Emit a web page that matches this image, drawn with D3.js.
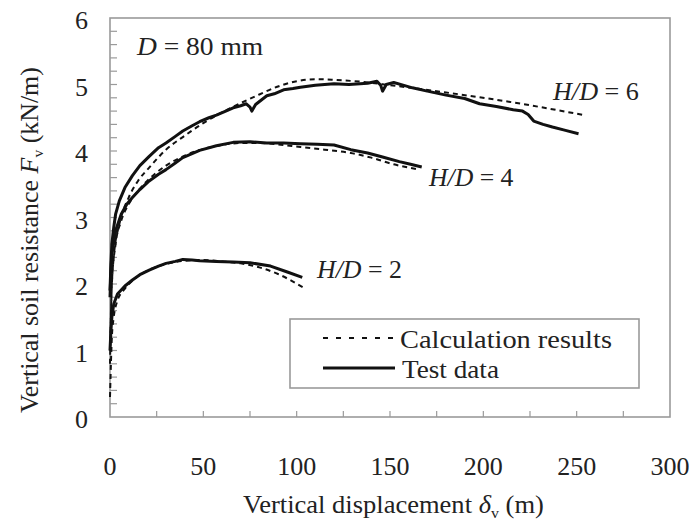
<!DOCTYPE html>
<html><head><meta charset="utf-8">
<script src="https://cdn.jsdelivr.net/npm/d3@7"></script>
<style>
html,body{margin:0;padding:0;background:#fff;}
#chart text{font-family:"Liberation Serif","Times New Roman","DejaVu Serif",serif;}
</style></head>
<body>
<svg id="chart" width="698" height="525"></svg>
<script>
// ---- data ----
const xTicks = [0, 50, 100, 150, 200, 250, 300];
const yTicks = [0, 1, 2, 3, 4, 5, 6];

// H/D = 6
const test6X = [0, 0.5, 1, 2, 3, 5, 8, 12, 16, 21, 26, 30, 35, 39, 44, 48, 53, 57, 62, 66, 70, 73, 75, 76, 78, 84, 88, 93, 98, 102, 110, 120, 128, 138, 143, 145, 146, 148, 152, 157, 162, 170, 180, 190, 198, 207, 216, 221, 224, 227, 232, 237, 244, 251];
const test6Y = [1.9, 2.3, 2.6, 2.85, 3.05, 3.25, 3.45, 3.63, 3.78, 3.92, 4.05, 4.12, 4.22, 4.3, 4.38, 4.44, 4.5, 4.54, 4.6, 4.65, 4.68, 4.71, 4.66, 4.6, 4.7, 4.83, 4.86, 4.92, 4.94, 4.96, 4.99, 5.01, 5.0, 5.02, 5.05, 4.99, 4.9, 5.0, 5.03, 4.99, 4.95, 4.9, 4.84, 4.79, 4.71, 4.67, 4.62, 4.6, 4.55, 4.45, 4.4, 4.36, 4.31, 4.26];
const calc6X = [0, 1, 2, 5, 10, 15, 21, 30, 40, 50, 60, 70, 80, 90, 100, 110, 120, 135, 150, 180, 216, 254];
const calc6Y = [1.0, 2.0, 2.4, 2.9, 3.3, 3.55, 3.75, 4.02, 4.23, 4.42, 4.58, 4.72, 4.85, 4.97, 5.05, 5.08, 5.07, 5.04, 4.99, 4.88, 4.73, 4.54];

// H/D = 4
const test4X = [0, 0.5, 1, 3, 6, 9, 12, 16, 21, 26, 30, 35, 39, 44, 48, 57, 66, 75, 84, 93, 102, 111, 120, 129, 138, 146, 155, 161, 167];
const test4Y = [1.8, 2.2, 2.45, 2.8, 3.05, 3.2, 3.3, 3.42, 3.55, 3.65, 3.72, 3.82, 3.9, 3.96, 4.01, 4.08, 4.13, 4.14, 4.12, 4.12, 4.11, 4.1, 4.09, 4.02, 3.97, 3.91, 3.84, 3.8, 3.76];
const calc4X = [0, 1, 3, 6, 10, 15, 21, 30, 40, 50, 60, 70, 80, 90, 102, 115, 129, 140, 152, 166];
const calc4Y = [0.8, 2.0, 2.6, 2.95, 3.2, 3.4, 3.58, 3.78, 3.93, 4.03, 4.09, 4.12, 4.12, 4.1, 4.06, 4.02, 3.97, 3.9, 3.8, 3.72];

// H/D = 2
const test2X = [0, 0.5, 1, 2, 4, 8, 12, 16, 21, 26, 30, 35, 39, 44, 48, 57, 66, 75, 86, 95, 103];
const test2Y = [1.0, 1.3, 1.5, 1.7, 1.85, 1.97, 2.06, 2.14, 2.21, 2.27, 2.31, 2.34, 2.37, 2.36, 2.35, 2.34, 2.33, 2.32, 2.27, 2.18, 2.1];
const calc2X = [0, 1, 2, 4, 8, 12, 20, 30, 40, 50, 60, 70, 80, 90, 104];
const calc2Y = [0.3, 1.2, 1.5, 1.75, 1.93, 2.05, 2.2, 2.3, 2.35, 2.36, 2.34, 2.31, 2.25, 2.15, 1.94];

const curveLabels = ["H/D = 6", "H/D = 4", "H/D = 2"];
const legendLabels = ["Calculation results", "Test data"];

// ---- layout ----
const svg = d3.select("#chart");
const L = 110, R = 670, T = 18, B = 417;
const x = d3.scaleLinear().domain([0, 300]).range([L, R]);
const y = d3.scaleLinear().domain([0, 6]).range([B, T]);
const frameColor = "#9a9a9a";
const textColor = "#222";

// stretch a text horizontally (in its own coords) so it spans targetW starting at x0
function fitWidth(sel, x0, targetW) {
  const w = sel.node().getBBox().width;
  const k = targetW / w;
  sel.attr("transform", `translate(${x0},0) scale(${k},1) translate(${-x0},0)`);
}

// frame
svg.append("rect").attr("x", L).attr("y", T).attr("width", R - L).attr("height", B - T)
  .attr("fill", "none").attr("stroke", frameColor).attr("stroke-width", 1.6);

// x ticks (inward)
const xMinor = d3.range(0, 301, 25);
svg.append("g").selectAll("line").data(xMinor.filter(d => d > 0 && d < 300)).join("line")
  .attr("x1", d => x(d)).attr("x2", d => x(d)).attr("y1", B).attr("y2", B - 6)
  .attr("stroke", frameColor).attr("stroke-width", 1.2);
svg.append("g").selectAll("text").data(xTicks).join("text")
  .attr("x", d => x(d)).attr("y", 475).attr("text-anchor", "middle").attr("fill", textColor)
  .attr("font-size", 26).text(d => d);

// y ticks (inward)
const yMinor = d3.range(0, 6.01, 0.2).map(v => +v.toFixed(1));
svg.append("g").selectAll("line").data(yMinor.filter(d => d > 0 && d < 6)).join("line")
  .attr("x1", L).attr("x2", L + 7).attr("y1", d => y(d)).attr("y2", d => y(d))
  .attr("stroke", frameColor).attr("stroke-width", 1.2);
svg.append("g").selectAll("text").data(yTicks).join("text")
  .attr("x", 88).attr("y", d => y(d) + 11).attr("text-anchor", "end").attr("fill", textColor)
  .attr("font-size", 26).text(d => d);

// axis titles
const xt = svg.append("text").attr("x", 243).attr("y", 513)
  .attr("font-size", 25).attr("fill", textColor);
xt.append("tspan").text("Vertical displacement ");
xt.append("tspan").attr("font-style", "italic").text("δ");
xt.append("tspan").attr("font-size", 15).attr("dy", 5).text("v");
xt.append("tspan").attr("dy", -5).text(" (m)");
fitWidth(xt, 243, 301);

const ytg = svg.append("g").attr("transform", "translate(38,413) rotate(-90)");
const yt = ytg.append("text").attr("x", 0).attr("y", 0)
  .attr("font-size", 25).attr("fill", textColor);
yt.append("tspan").text("Vertical soil resistance ");
yt.append("tspan").attr("font-style", "italic").text("F");
yt.append("tspan").attr("font-size", 15).attr("dy", 5).text("v");
yt.append("tspan").attr("dy", -5).text(" (kN/m)");
fitWidth(yt, 0, 346);

// D label
const dl = svg.append("text").attr("x", 137).attr("y", 55).attr("font-size", 25).attr("fill", textColor);
dl.append("tspan").attr("font-style", "italic").text("D");
dl.append("tspan").text(" =  80 mm");
fitWidth(dl, 137, 128);

// curves
const zip = (a, b) => a.map((v, i) => [v, b[i]]);
const calcSets = [zip(calc6X, calc6Y), zip(calc4X, calc4Y), zip(calc2X, calc2Y)];
const testSets = [zip(test6X, test6Y), zip(test4X, test4Y), zip(test2X, test2Y)];

svg.append("g").selectAll("path").data(calcSets).join("path")
  .attr("d", d3.line().x(d => x(d[0])).y(d => y(d[1])).curve(d3.curveMonotoneX))
  .attr("fill", "none").attr("stroke", "#111")
  .attr("stroke-width", 2).attr("stroke-dasharray", "5,4");
svg.append("g").selectAll("path").data(testSets).join("path")
  .attr("d", d3.line().x(d => x(d[0])).y(d => y(d[1])).curve(d3.curveLinear))
  .attr("fill", "none").attr("stroke", "#111").attr("stroke-width", 3).attr("stroke-linejoin", "round");

// curve labels
const labelPos = [[553, 100, 87], [429, 186, 86], [317, 278, 86]];
curveLabels.forEach((t, i) => {
  const g = svg.append("text").attr("x", labelPos[i][0]).attr("y", labelPos[i][1])
    .attr("font-size", 25).attr("fill", textColor);
  const parts = t.split(" = ");
  g.append("tspan").attr("font-style", "italic").text(parts[0]);
  g.append("tspan").text(" = " + parts[1]);
  fitWidth(g, labelPos[i][0], labelPos[i][2]);
});

// legend
svg.append("rect").attr("x", 290).attr("y", 319).attr("width", 349).attr("height", 69)
  .attr("fill", "#fff").attr("stroke", frameColor).attr("stroke-width", 1.6);
svg.append("line").attr("x1", 323).attr("x2", 395).attr("y1", 338).attr("y2", 338)
  .attr("stroke", "#111").attr("stroke-width", 2).attr("stroke-dasharray", "5,8");
svg.append("line").attr("x1", 323).attr("x2", 395).attr("y1", 368).attr("y2", 368)
  .attr("stroke", "#111").attr("stroke-width", 3);
const lg1 = svg.append("text").attr("x", 400).attr("y", 348).attr("font-size", 25).attr("fill", textColor).text(legendLabels[0]);
fitWidth(lg1, 400, 212);
const lg2 = svg.append("text").attr("x", 402).attr("y", 378).attr("font-size", 25).attr("fill", textColor).text(legendLabels[1]);
fitWidth(lg2, 402, 97);
</script>
</body></html>
